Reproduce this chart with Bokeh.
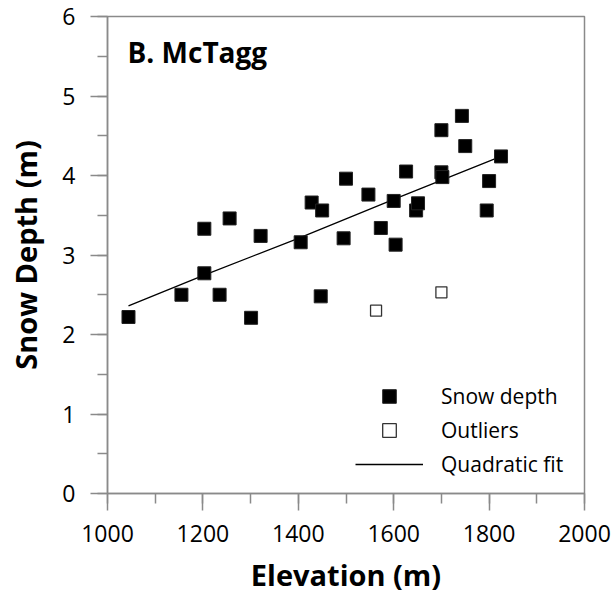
from bokeh.plotting import figure
from bokeh.models import ColumnDataSource, Legend, LegendItem, Label, SingleIntervalTicker, Range1d
from bokeh.embed import file_html
from bokeh.resources import INLINE

# Snow depth observations (elevation m, depth m)
elev = [1044, 1155, 1203, 1203, 1235, 1256, 1301, 1321, 1405, 1428, 1450, 1447, 1495, 1500,
        1547, 1573, 1600, 1604, 1626, 1647, 1651, 1700, 1700, 1702, 1743, 1750, 1795, 1800, 1825]
depth = [2.22, 2.50, 3.33, 2.77, 2.50, 3.46, 2.21, 3.24, 3.16, 3.66, 3.56, 2.48, 3.21, 3.96,
         3.76, 3.34, 3.68, 3.13, 4.05, 3.56, 3.65, 4.57, 4.04, 3.98, 4.75, 4.37, 3.56, 3.93, 4.24]
# Outliers
out_elev = [1563, 1700]
out_depth = [2.30, 2.53]
# Quadratic fit curve
fit_elev = [1044, 1200, 1400, 1600, 1825]
fit_depth = [2.36, 2.74, 3.21, 3.70, 4.24]

title_text = "B. McTagg"
x_label = "Elevation (m)"
y_label = "Snow Depth (m)"

FONT = "Open Sans"
GRAY = "#8a8a8a"

p = figure(width=615, height=601, output_backend="svg", toolbar_location=None,
           x_range=Range1d(1000, 2000), y_range=Range1d(0, 6),
           min_border_left=107, min_border_right=31, min_border_top=16, min_border_bottom=108)
p.grid.visible = False
p.background_fill_color = "white"
p.border_fill_color = "white"
p.outline_line_color = GRAY
p.outline_line_width = 1.5

p.xaxis.ticker = SingleIntervalTicker(interval=200, num_minor_ticks=2)
p.yaxis.ticker = SingleIntervalTicker(interval=1, num_minor_ticks=2)
for ax in (p.xaxis, p.yaxis):
    ax.axis_line_color = GRAY
    ax.axis_line_width = 1.5
    ax.major_tick_line_color = GRAY
    ax.minor_tick_line_color = GRAY
    ax.major_tick_line_width = 1.5
    ax.minor_tick_line_width = 1.5
    ax.major_tick_out = 17
    ax.major_tick_in = 0
    ax.minor_tick_out = 10
    ax.minor_tick_in = 0
    ax.major_label_text_font = FONT
    ax.major_label_text_font_size = "23px"
    ax.major_label_text_color = "black"
    ax.axis_label_text_font = FONT
    ax.axis_label_text_font_size = "29px"
    ax.axis_label_text_font_style = "bold"
    ax.axis_label_text_color = "black"
p.xaxis.axis_label = x_label
p.yaxis.axis_label = y_label
p.xaxis.major_label_standoff = 14
p.yaxis.major_label_standoff = 15
p.xaxis.axis_label_standoff = 10
p.yaxis.axis_label_standoff = 14

src = ColumnDataSource(dict(x=elev, y=depth))
osrc = ColumnDataSource(dict(x=out_elev, y=out_depth))
fsrc = ColumnDataSource(dict(x=fit_elev, y=fit_depth))

r_fit = p.line("x", "y", source=fsrc, line_color="black", line_width=1.3)
r_pts = p.scatter("x", "y", source=src, marker="square", size=13,
                  fill_color="black", line_color="#222222", line_width=1)
r_out = p.scatter("x", "y", source=osrc, marker="square", size=11,
                  fill_color="white", line_color="#333333", line_width=1.3)

p.add_layout(Label(x=1042, y=5.55, text=title_text, text_font=FONT, text_font_size="28px",
                   text_font_style="bold", text_color="black", text_baseline="alphabetic"))

legend = Legend(items=[LegendItem(label="Snow depth", renderers=[r_pts]),
                       LegendItem(label="Outliers", renderers=[r_out]),
                       LegendItem(label="Quadratic fit", renderers=[r_fit])],
                location=(248, 12), glyph_width=68, glyph_height=34, label_height=34,
                spacing=0, padding=0, margin=0, label_standoff=18,
                border_line_color=None, background_fill_alpha=0,
                label_text_font=FONT, label_text_font_size="21px", label_text_color="black")
p.add_layout(legend)

open("out.html", "w").write(file_html(p, INLINE))
